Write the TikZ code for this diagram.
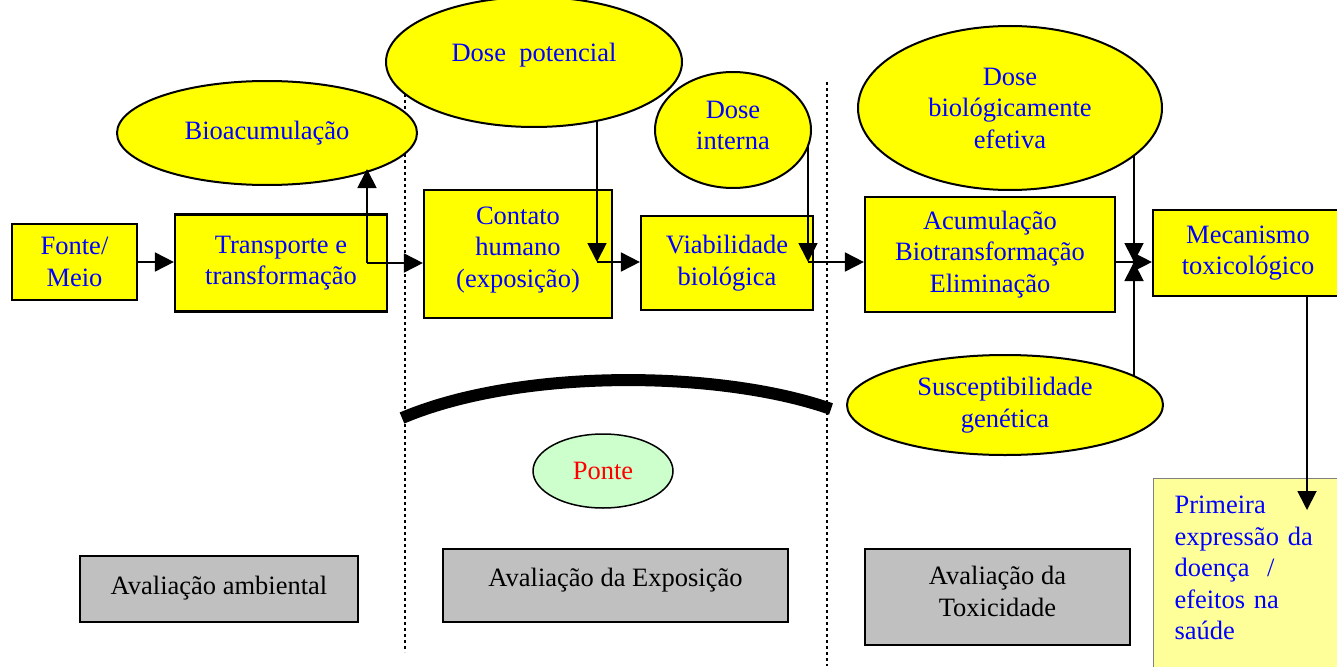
\documentclass[tikz,border=0pt]{standalone}
\usepackage{fontspec}
\setmainfont{Liberation Serif}
\usetikzlibrary{arrows.meta,shapes.geometric}
\definecolor{txtblue}{RGB}{0,0,255}
\definecolor{boxyellow}{RGB}{255,255,0}
\definecolor{paleyellow}{RGB}{255,255,153}
\definecolor{palegreen}{RGB}{204,255,204}
\definecolor{boxgray}{RGB}{192,192,192}
\begin{document}
\begin{tikzpicture}[x=1pt,y=-1pt,
  every node/.style={font=\fontsize{26.5}{31.5}\selectfont, align=center, inner sep=0pt},
  ybox/.style={draw=black, line width=2.2pt, fill=boxyellow, text=txtblue},
  gbox/.style={draw=black, line width=1.6pt, fill=boxgray, text=black},
  yell/.style={ellipse, draw=black, line width=2pt, fill=boxyellow, text=txtblue},
  arr/.style={line width=1.8pt, -{Triangle[length=19pt,width=19pt]}},
  conn/.style={line width=1.8pt},
  divider/.style={line width=2.6pt, dash pattern=on 3pt off 3pt},
]
\useasboundingbox (0,0) rectangle (1337,666);

% section dividers
\draw[divider] (405,88) -- (405,652);
\draw[divider] (827,82) -- (827,666);

% bridge arc
\draw[line width=12pt] (402,418) .. controls (520,368) and (720,370) .. (831,409);

% process boxes
\node[ybox, minimum width=125, minimum height=76] (fonte) at (74.5,262) {Fonte/\\Meio};
\node[ybox, minimum width=212, minimum height=97] (transp) at (281,263) {Transporte e\\transformação};
\node[ybox, minimum width=188, minimum height=128] (contato) at (518,254) {Contato\\humano\\(exposição)\\[-17pt]\mbox{}};
\node[ybox, minimum width=172, minimum height=94] (viab) at (727,263) {Viabilidade\\biológica};
\node[ybox, minimum width=250, minimum height=115] (acum) at (990,254.5) {Acumulação\\Biotransformação\\Eliminação};
\node[ybox, minimum width=190, minimum height=86] (mec) at (1248,253) {Mecanismo\\toxicológico};
\node[draw=gray, line width=1pt, fill=paleyellow, text=txtblue, anchor=north west,
      minimum width=195, minimum height=195, text width=165, align=left,
      inner xsep=21pt] (prim) at (1153,478)
      {Primeira\\expressão da\\doença \ /\\efeitos na\\saúde\\[-15pt]\mbox{}};

% ellipses
\node[yell, minimum width=300, minimum height=104] (bio) at (267,133) {Bioacumulação};
\node[yell, minimum width=296, minimum height=130] (dpot) at (534,62) {Dose\ \ potencial\\[-13pt]\mbox{}};
\node[yell, minimum width=156, minimum height=116] (dint) at (733,130) {Dose\\interna\\[-22pt]\mbox{}};
\node[yell, minimum width=304, minimum height=164] (dbio) at (1010,108) {Dose\\biológicamente\\efetiva};
\node[yell, minimum width=316, minimum height=100] (susc) at (1005,405) {Susceptibilidade\\genética};
\node[ellipse, draw=black, line width=1.5pt, fill=palegreen, text=red,
      minimum width=140, minimum height=74] (ponte) at (603,471) {Ponte};

% assessment boxes
\node[gbox, minimum width=278, minimum height=66] (aamb) at (219,589) {Avaliação ambiental\\[-25pt]\mbox{}};
\node[gbox, minimum width=345, minimum height=73] (aexp) at (615.5,585.5) {Avaliação da Exposição\\[-16pt]\mbox{}};
\node[gbox, minimum width=265, minimum height=96] (atox) at (997.5,597) {Avaliação da\\Toxicidade\\[-20pt]\mbox{}};

% junction points
\coordinate (j1) at (367,263);
\coordinate (bioTip) at (367,169);
\coordinate (dpotFoot) at (597,121);
\coordinate (j2) at (597,262);
\coordinate (dintFoot) at (808,146);
\coordinate (j3) at (808,262);
\coordinate (dbioFoot) at (1134,155);
\coordinate (suscTop) at (1134,376);
\coordinate (j4) at (1134,262);
\coordinate (mecFoot) at (1307,296);

% connectors
\draw[arr] (fonte.east) -- (fonte.east -| transp.west);
\draw[arr] (j1) -- (bioTip);
\draw[arr] (j1) -- (j1 -| contato.west);
\draw[arr] (dpotFoot) -- (j2);
\draw[arr] (j2) -- (j2 -| viab.west);
\draw[arr] (dintFoot) -- (j3);
\draw[arr] (j3) -- (j3 -| acum.west);
\draw[conn] (j4 -| acum.east) -- (j4);
\draw[arr] (j4) -- (j4 -| mec.west);
\draw[arr] (dbioFoot) -- (j4);
\draw[arr] (suscTop) -- (j4);
\draw[arr] (mecFoot) -- (1307,510);
\end{tikzpicture}
\end{document}
